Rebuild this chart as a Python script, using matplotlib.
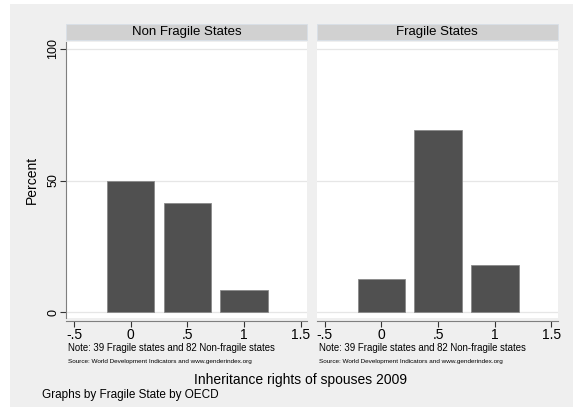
import matplotlib

matplotlib.use("Agg")
import matplotlib.pyplot as plt
from matplotlib.patches import Rectangle

plt.rcParams["font.family"] = ["Liberation Sans", "DejaVu Sans"]

# Data: share of states (%) by inheritance-rights score, per panel
panels = ["Non Fragile States", "Fragile States"]
scores = [0, 0.5, 1]
non_fragile_pct = [50.0, 41.5, 8.5]
fragile_pct = [12.8, 69.2, 17.9]
panel_values = [non_fragile_pct, fragile_pct]
x_ticks = [-0.5, 0, 0.5, 1, 1.5]
x_labels = ["-.5", "0", ".5", "1", "1.5"]
y_ticks = [0, 50, 100]

note = "Note: 39 Fragile states and 82 Non-fragile states"
source = "Source: World Development Indicators and www.genderindex.org"

W, H = 573, 407
BG = "#efefef"
BAR = "#505050"
AXIS = "#7f7f7f"

fig = plt.figure(figsize=(W / 100, H / 100), dpi=100)
fig.patch.set_facecolor("white")
# grey graph region with thin white margin on the left/top
fig.patches.append(Rectangle((10 / W, 0), 1 - 10 / W, 1 - 4 / H,
                             transform=fig.transFigure, facecolor=BG,
                             edgecolor="none", zorder=-10))

lefts = [66, 316.7]
pw = 241
top, bottom = 42, 318

for i, (title, vals) in enumerate(zip(panels, panel_values)):
    ax = fig.add_axes([lefts[i] / W, 1 - bottom / H, pw / W, (bottom - top) / H])
    ax.set_facecolor("white")
    ax.bar(scores, vals, width=0.42, color=BAR, edgecolor="#8a8a8a",
           linewidth=0.6, zorder=3)
    ax.set_xlim(-0.57, 1.555)
    ax.set_ylim(-2.1, 102.5)
    ax.set_yticks(y_ticks)
    ax.grid(axis="y", color="#e6e6e6", linewidth=0.9, zorder=0)
    ax.set_xticks(x_ticks)
    ax.set_xticklabels(x_labels, fontsize=9)
    for s in ("top", "right"):
        ax.spines[s].set_visible(False)
    ax.spines["bottom"].set_position(("outward", 2))
    ax.spines["bottom"].set_color(AXIS)
    ax.spines["left"].set_color(AXIS)
    ax.tick_params(axis="x", length=4, width=0.8, color="#333333", pad=1)
    ax.tick_params(axis="y", length=4, width=0.8, color="#333333", pad=1)
    if i == 0:
        ax.set_yticklabels([str(v) for v in y_ticks], fontsize=9,
                           rotation=90, va="center")
        ax.set_ylabel("Percent", fontsize=10, labelpad=6)
    else:
        ax.spines["left"].set_visible(False)
        ax.tick_params(axis="y", length=0, labelleft=False)

    # strip header
    fig.patches.append(Rectangle((lefts[i] / W, 1 - 40 / H), pw / W, 16 / H,
                                 transform=fig.transFigure, facecolor="#d1d1d1",
                                 edgecolor="#d8e0e8", linewidth=0.6))
    fig.text((lefts[i] + pw / 2) / W, 1 - 32 / H, title, fontsize=9.5,
             ha="center", va="center")

    fig.text((lefts[i] + 2) / W, 1 - 348 / H, note, fontsize=6.9,
             ha="left", va="center")
    fig.text((lefts[i] + 2) / W, 1 - 361 / H, source, fontsize=4.6,
             ha="left", va="center")

fig.text(301 / W, 1 - 380 / H, "Inheritance rights of spouses 2009",
         fontsize=10, ha="center", va="center")
fig.text(42 / W, 1 - 395 / H, "Graphs by Fragile State by OECD",
         fontsize=8.5, ha="left", va="center")

fig.savefig("out.png", dpi=100, facecolor=fig.get_facecolor())
